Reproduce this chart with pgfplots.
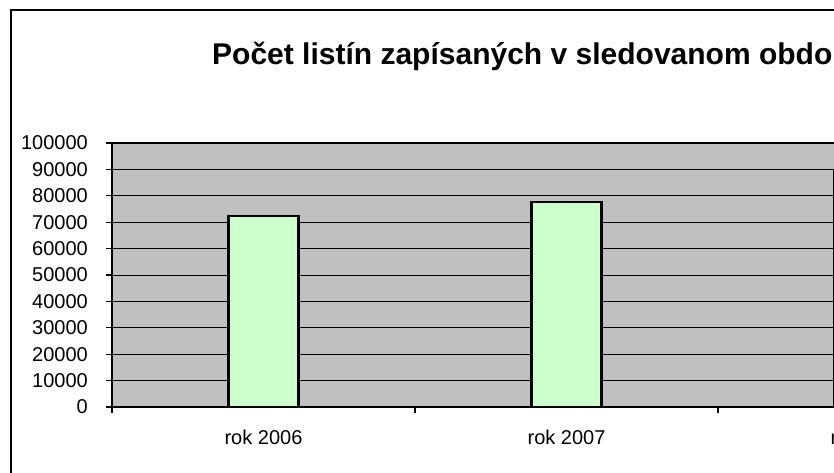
\documentclass[border=0pt]{standalone}
\usepackage{pgfplots}
\pgfplotsset{compat=1.18}
\usepackage{fontspec}
\setmainfont{Liberation Sans}
\definecolor{plotgray}{RGB}{192,192,192}
\definecolor{barfill}{RGB}{204,255,204}
\begin{document}
\begin{tikzpicture}[x=1pt,y=1pt]
\useasboundingbox (0,0) rectangle (834,473);
\clip (0,0) rectangle (834,473);
\fill[white] (0,0) rectangle (834,473);
\draw[line width=1.5pt] (11,-50) -- (11,463) -- (1200,463);
\node[anchor=base west, inner sep=0pt, font=\fontsize{30}{36}\selectfont\bfseries] at (212,408) {Počet listín zapísaných v sledovanom období};
\begin{axis}[
  at={(112pt,66pt)}, anchor=south west,
  scale only axis, width=909pt, height=264pt,
  xmin=-0.5, xmax=2.5, ymin=0, ymax=100000,
  axis background/.style={fill=plotgray},
  ybar, bar width=70pt,
  axis line style={black, line width=1.2pt},
  tick align=outside, major tick length=6pt,
  xtick pos=left, ytick pos=left,
  tick style={black, line width=1.3pt},
  xtick={-0.5,0.5,1.5,2.5}, xticklabels={},
  extra x ticks={0,1,2}, extra x tick labels={rok 2006,rok 2007,rok 2008},
  extra x tick style={major tick length=0pt, xticklabel style={anchor=base, inner sep=0pt, yshift=-38pt}},
  scaled y ticks=false,
  ytick={0,10000,20000,30000,40000,50000,60000,70000,80000,90000,100000},
  yticklabels={0,10000,20000,30000,40000,50000,60000,70000,80000,90000,100000},
  yticklabel style={anchor=east, inner sep=0pt, xshift=-18pt},
  tick label style={font=\fontsize{20}{24}\selectfont},
  ymajorgrids, grid style={black, line width=0.8pt},
  clip=false,
]
\addplot[fill=barfill, draw=black, line width=2.4pt] coordinates {(0,72350) (1,77650) (2,89500)};
\end{axis}
\end{tikzpicture}
\end{document}
